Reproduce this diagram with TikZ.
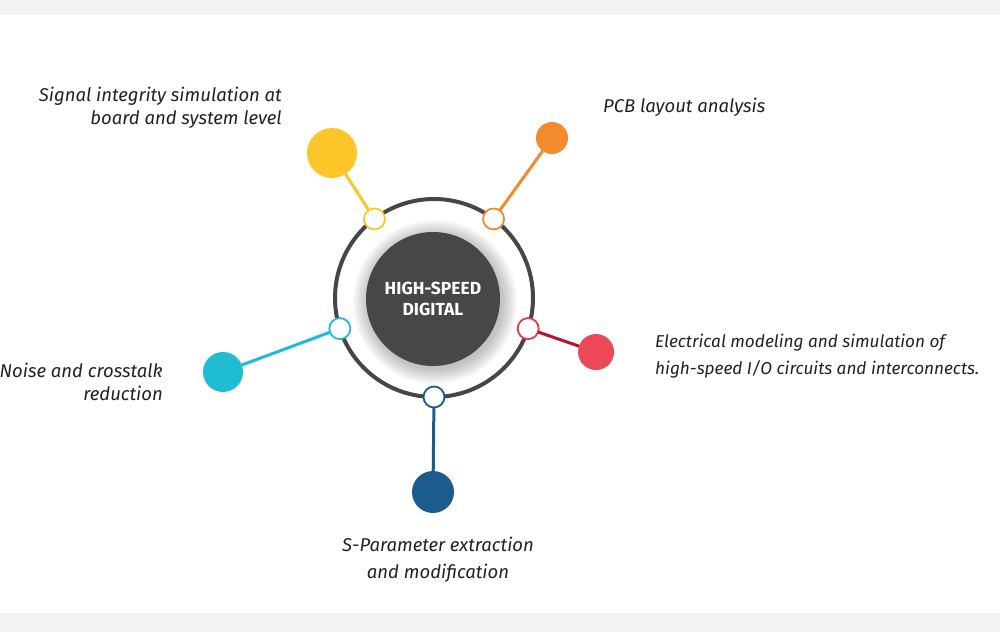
\documentclass[tikz,border=0pt]{standalone}
\usepackage{fontspec}
\setmainfont{Fira Sans}
\definecolor{bandgray}{HTML}{F3F3F3}
\definecolor{ringcol}{HTML}{464646}
\definecolor{hubcol}{HTML}{474747}
\definecolor{txtcol}{HTML}{222222}
\definecolor{cyellow}{HTML}{FCC62A}
\definecolor{corange}{HTML}{F48A2E}
\definecolor{ccyan}{HTML}{1FBCD3}
\definecolor{credring}{HTML}{E63A4A}
\definecolor{credline}{HTML}{B5142A}
\definecolor{credbig}{HTML}{EC4859}
\definecolor{cblue}{HTML}{1B5C8D}
\begin{document}
\begin{tikzpicture}[x=1pt,y=-1pt,
  bigdot/.style={circle,inner sep=0pt,outer sep=0pt,minimum size=#1},
  port/.style={circle,draw=#1,fill=white,line width=1.8pt,inner sep=0pt,outer sep=0pt,minimum size=21pt},
  conn/.style={line width=3pt,#1},
  label/.style={font=\fontsize{18.5}{24}\selectfont\itshape,text=txtcol,inner sep=0pt}]
\useasboundingbox (0,0) rectangle (1000,632);
\fill[white] (0,0) rectangle (1000,632);
\fill[bandgray] (0,0) rectangle (1000,15);
\fill[bandgray] (0,613) rectangle (1000,632);
% ring
\node[circle,draw=ringcol,line width=4pt,inner sep=0pt,outer sep=0pt,minimum size=198pt] (ring) at (434,298) {};
% hub shadow
\foreach \r in {68,70,...,82}{
  \fill[black,opacity=0.03] (435,302) circle (\r pt);
}
\node[circle,fill=hubcol,inner sep=0pt,minimum size=134pt,text=white,align=center,
  font=\fontsize{17.5}{21}\selectfont\bfseries] (hub) at (433,299) {HIGH-SPEED\\DIGITAL};
% ports on ring
\node[port=cyellow] (py) at (ring.127) {};
\node[port=corange] (po) at (ring.53) {};
\node[port=ccyan] (pc) at (ring.198) {};
\node[port=credring] (pr) at (ring.342) {};
\node[port=cblue] (pb) at (ring.270) {};
% big dots
\node[bigdot=50pt,fill=cyellow] (by) at (332,153) {};
\node[bigdot=32pt,fill=corange] (bo) at (552,138) {};
\node[bigdot=40pt,fill=ccyan] (bc) at (223,372) {};
\node[bigdot=36pt,fill=credbig] (br) at (596,352) {};
\node[bigdot=42pt,fill=cblue] (bb) at (433,492) {};
% connectors
\draw[conn=cyellow] (by) -- (py);
\draw[conn=corange] (bo) -- (po);
\draw[conn=ccyan] (bc) -- (pc);
\draw[conn=credline] (br) -- (pr);
\draw[conn=cblue] (bb) -- (pb);
% labels
\node[label,align=right,anchor=east,font=\fontsize{18.5}{23}\selectfont\itshape] (ly) at (282,108) {Signal integrity simulation at\\board and system level};
\node[label,align=left,anchor=west] (lo) at (603,107) {PCB layout analysis};
\node[label,align=right,anchor=east,font=\fontsize{18.5}{22.5}\selectfont\itshape] (lc) at (163,382) {Noise and crosstalk\\reduction};
\node[label,align=left,anchor=west,font=\fontsize{17.2}{27}\selectfont\itshape] (lr) at (655,356) {Electrical modeling and simulation of\\high-speed I/O circuits and interconnects.};
\node[label,align=center,anchor=center,font=\fontsize{18.5}{27}\selectfont\itshape] (lb) at (438,560) {S-Parameter extraction\\and modification};
\end{tikzpicture}
\end{document}
